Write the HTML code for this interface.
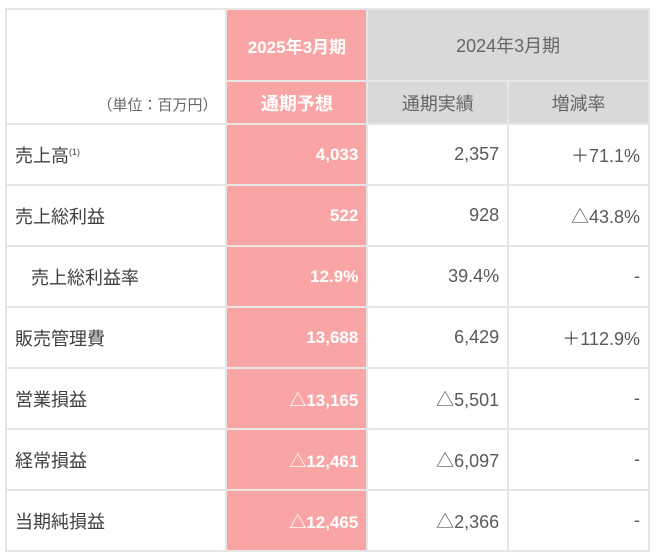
<!DOCTYPE html>
<html><head><meta charset="utf-8"><style>
body{margin:0;background:#fff;width:650px;height:551px;overflow:hidden;font-family:"Liberation Sans","Noto Sans CJK JP",sans-serif;}
table{position:absolute;left:5px;top:8px;border-collapse:collapse;table-layout:fixed;}
td{border:2px solid #e6e6e6;padding:0 8px;color:#404040;font-size:18px;height:59px;}
.p{background:#f9a5a5;color:#fff;font-weight:bold;text-align:right;font-size:17px;}
.g{background:#d9d9d9;color:#666;text-align:center;}
.r{text-align:right;color:#595959;}
.h1{height:70px;}
.h2{height:41px;}
</style></head><body>
<table>
<colgroup><col style="width:221px"><col style="width:141px"><col style="width:141px"><col style="width:141px"></colgroup>
<tr><td class="h1" rowspan="2" style="vertical-align:bottom;text-align:right;color:#666;font-size:15px;padding-bottom:8px">（単位：百万円）</td>
<td class="p h1" style="text-align:center;font-size:17px">2025年3月期</td>
<td class="g h1" colspan="2">2024年3月期</td></tr>
<tr><td class="p h2" style="text-align:center;font-size:18px">通期予想</td><td class="g h2">通期実績</td><td class="g h2">増減率</td></tr>
<tr><td>売上高<sup style="font-size:9px">(1)</sup></td><td class="p">4,033</td><td class="r">2,357</td><td class="r">＋71.1%</td></tr>
<tr><td>売上総利益</td><td class="p">522</td><td class="r">928</td><td class="r">△43.8%</td></tr>
<tr><td style="padding-left:24px">売上総利益率</td><td class="p">12.9%</td><td class="r">39.4%</td><td class="r">-</td></tr>
<tr><td>販売管理費</td><td class="p">13,688</td><td class="r">6,429</td><td class="r">＋112.9%</td></tr>
<tr><td>営業損益</td><td class="p">△13,165</td><td class="r">△5,501</td><td class="r">-</td></tr>
<tr><td>経常損益</td><td class="p">△12,461</td><td class="r">△6,097</td><td class="r">-</td></tr>
<tr><td>当期純損益</td><td class="p">△12,465</td><td class="r">△2,366</td><td class="r">-</td></tr>
</table>
</body></html>
